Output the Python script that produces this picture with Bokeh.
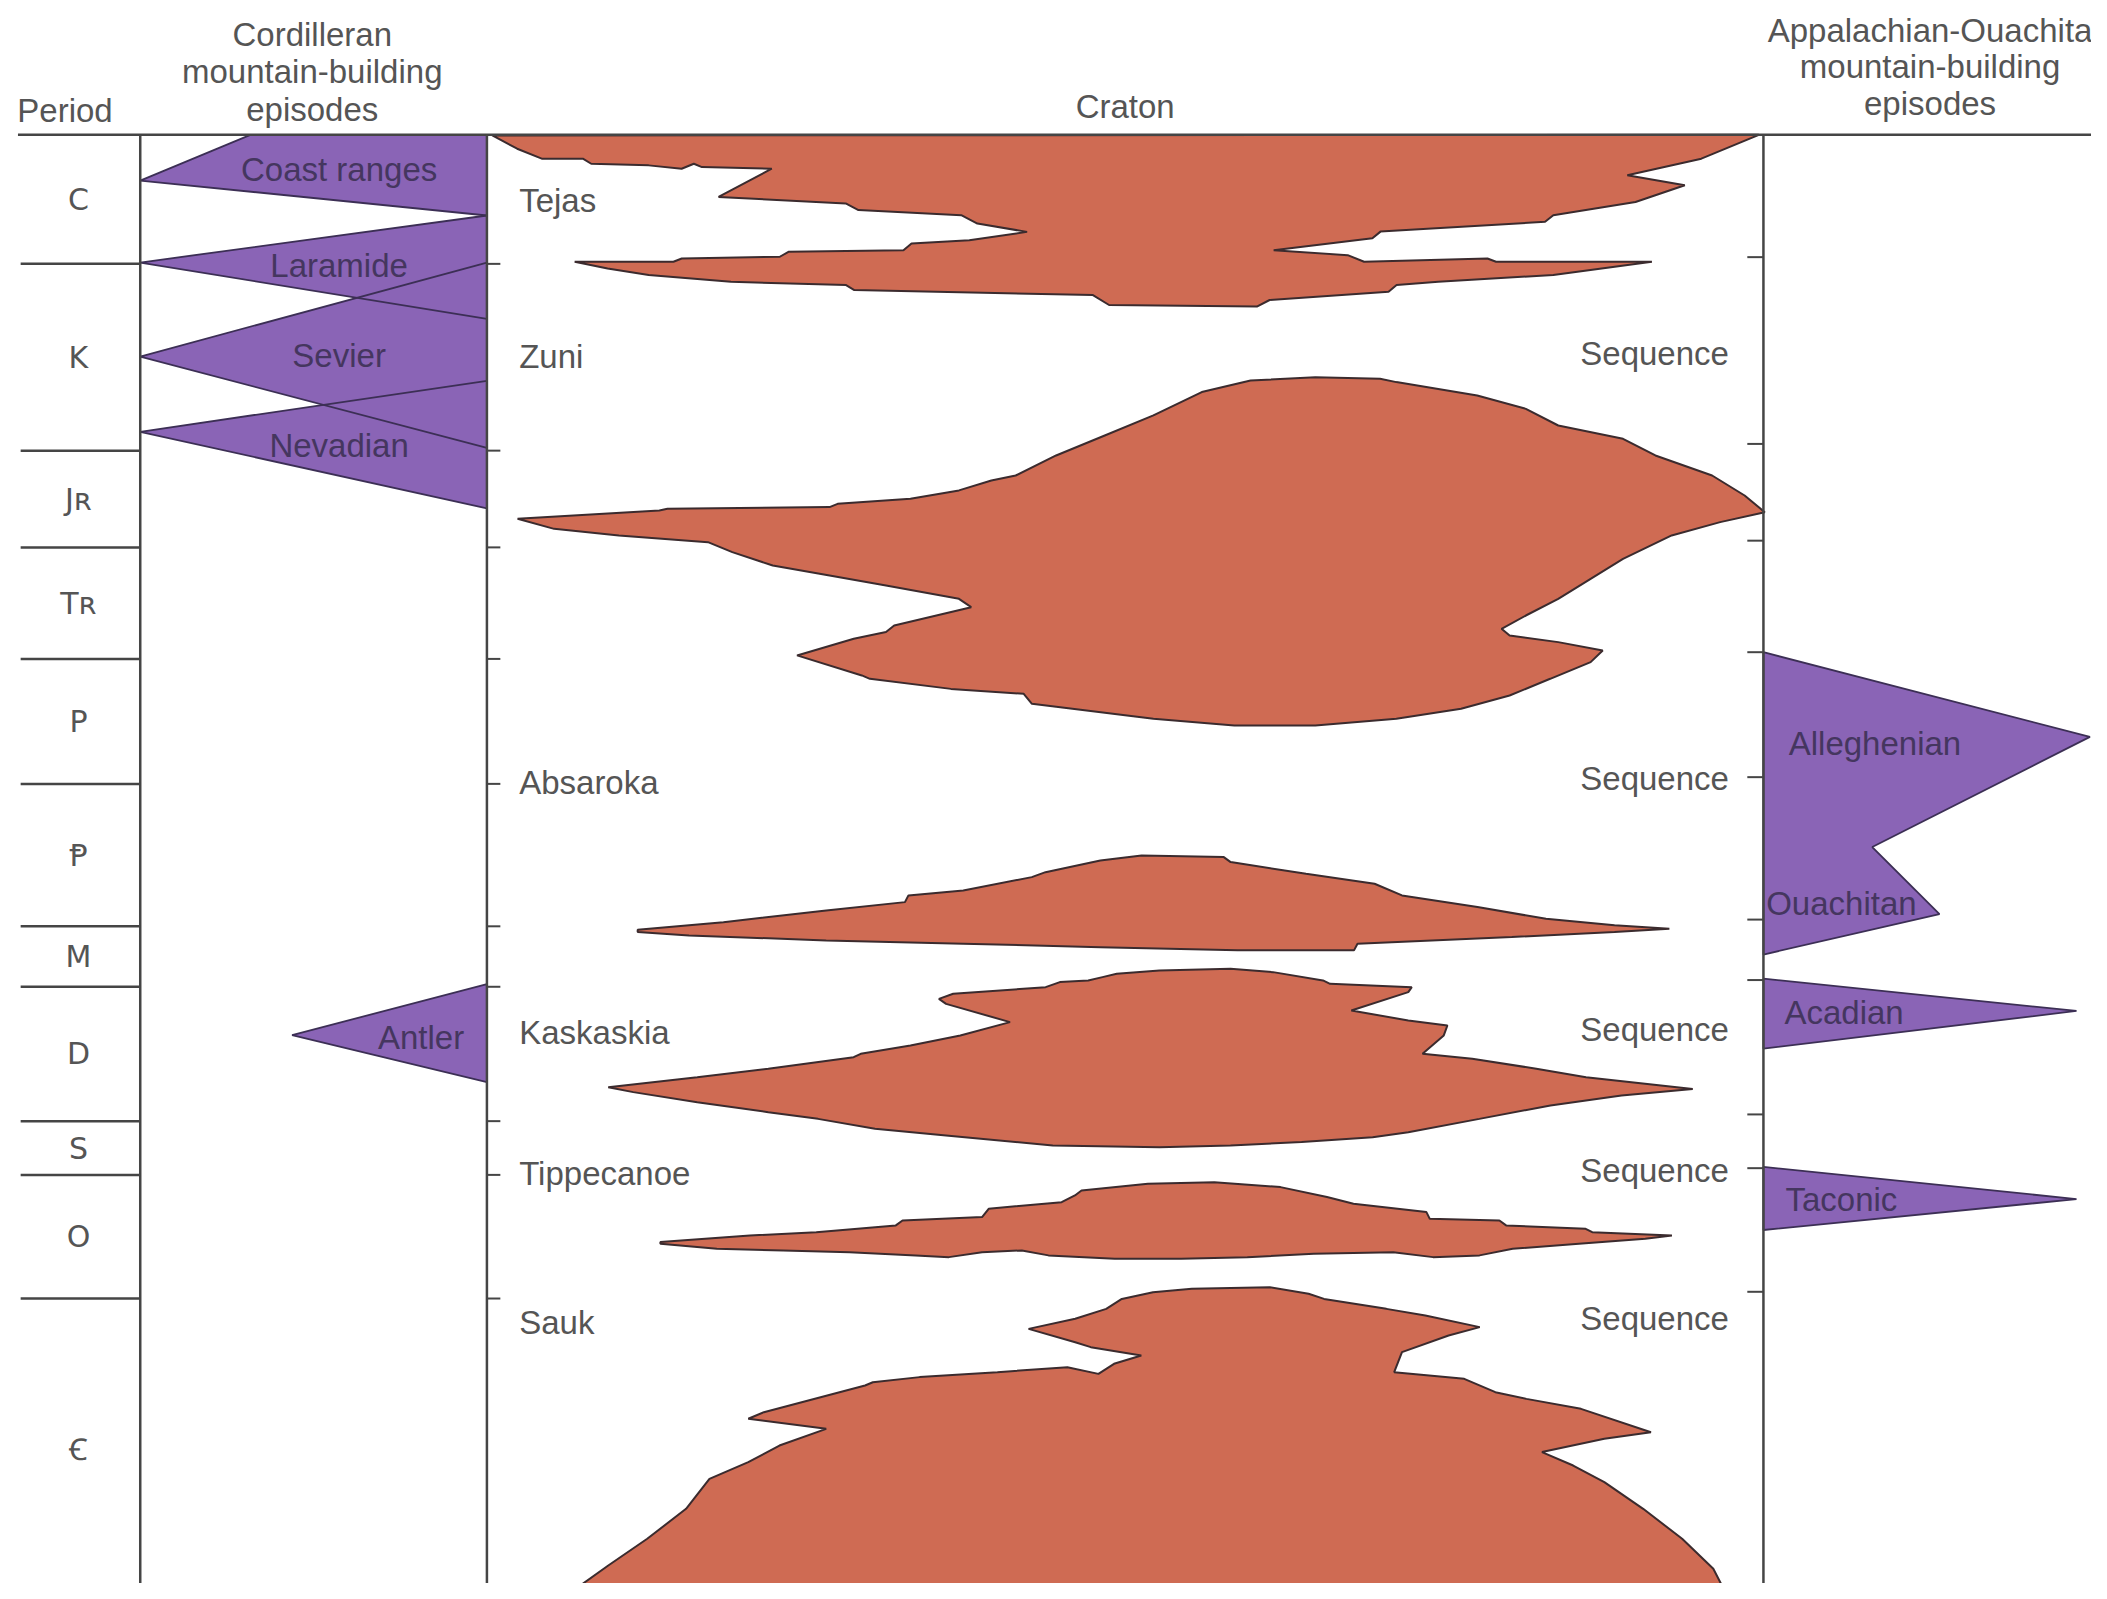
from bokeh.plotting import figure
from bokeh.models import Range1d
from bokeh.embed import file_html
from bokeh.resources import INLINE
from bokeh.core.properties import value

# ---------------- data ----------------
# geological periods (top to bottom) and the vertical position of each period's top edge
period_labels = ["C", "K", "J\u0280", "T\u0280", "P", "\u2C63", "M", "D", "S", "O", "\uA792"]
period_tops = [100, 196, 335, 407, 490, 583, 689, 734, 834, 874, 966]
chart_bottom = 1200

# Cordilleran mountain-building episodes (outline vertices)
cord_names = ["Coast ranges", "Laramide", "Sevier", "Nevadian", "Antler"]
cord_xs = [[104, 186, 362, 362], [104, 362, 362], [104, 362, 362], [104, 362, 362], [217, 362, 362]]
cord_ys = [[134, 100, 100, 160], [195, 160, 237], [265, 195, 333], [321, 283, 378], [770, 732, 805]]
cord_label_x = [252, 252, 252, 252, 313]
cord_label_y = [126, 197, 264, 331, 772]

# Appalachian-Ouachita mountain-building episodes
app_names = ["Alleghenian", "Ouachitan", "Acadian", "Taconic"]
app_xs = [[1312, 1555, 1393, 1443, 1312], [1312, 1545, 1312], [1312, 1545, 1312]]
app_ys = [[485, 548, 630, 680, 710], [728, 752, 780], [868, 892, 915]]
app_label_x = [1395, 1370, 1372, 1370]
app_label_y = [553, 672, 753, 892]

# Cratonic sequences
seq_names = ["Tejas", "Zuni", "Absaroka", "Kaskaskia", "Tippecanoe", "Sauk"]
seq_label_y = [149, 265, 582, 768, 873, 984]
seq_right_y = [None, 263, 579, 766, 871, 981]

tejas_zuni_x = [366, 384.5, 402.8, 433.4, 439.6, 482.4, 506.9, 516, 522, 574, 534.4, 629, 638.5, 715, 727, 764,
                721, 678, 672, 586.4, 580, 507, 500.8, 427.3, 451.8, 482.4, 543.6, 629.3, 635.4, 813, 825, 935,
                944.5, 1033, 1039, 1070, 1155.6, 1229, 1113, 1106.6, 1014.8, 1002.6, 947.5, 1021, 1027, 1149.5,
                1155.6, 1216.8, 1253.5, 1210.7, 1265.8, 1308.6]
tejas_zuni_y = [100.4, 110.3, 117.7, 117.7, 121.5, 122.7, 125.2, 121.5, 124, 125.2, 146.2, 151, 156, 159.8, 166,
                172.2, 178.4, 180.8, 185.8, 187, 190.7, 192, 194.4, 194.4, 199.4, 204.3, 209.3, 211.8, 215.5,
                219.2, 226.6, 227.8, 222.9, 216.7, 211.8, 209.3, 204.3, 194.4, 194.4, 192, 194.4, 189.5, 185.8,
                177, 172, 164.7, 159.8, 150, 137.5, 130, 117.7, 100]

zuni_absaroka_x = [384.8, 490.3, 496.3, 617, 623, 677.2, 713.3, 737.4, 755.5, 785.6, 821.8, 858, 894, 930.3,
                   978.5, 1026.7, 1038.8, 1099, 1135.2, 1159.3, 1207.5, 1231.6, 1273.8, 1298, 1313, 1279.8,
                   1243.7, 1207.5, 1183.4, 1159.3, 1135.2, 1117.1, 1123.1, 1159.3, 1192.4, 1183.4, 1153.3,
                   1123.1, 1087, 1038.8, 978.5, 918.2, 858, 797.7, 767.6, 761.5, 707.3, 647, 641, 592.8, 635,
                   659, 665.1, 722.4, 713.3, 659, 617, 574.7, 544.6, 526.5, 460.2, 412]
zuni_absaroka_y = [385.7, 379.5, 378.3, 377, 374.6, 370.8, 364.6, 357.2, 353.5, 338.6, 323.7, 308.8, 291.4, 282.8,
                   280.3, 281.5, 284, 293.9, 303.9, 316.3, 326.2, 338.6, 353.5, 368.4, 380.8, 388.2, 398.1,
                   415.5, 430.4, 445.3, 457.7, 467.6, 472.6, 477.5, 483.7, 492.4, 504.8, 517.2, 527.1, 534.6,
                   539.5, 539.5, 534.6, 527.1, 523.4, 516, 512.3, 504.8, 502.3, 487.4, 475, 470, 465.1, 451.5,
                   445.3, 435.3, 427.9, 420.5, 410.5, 403.1, 398.1, 393.2]

absaroka_lower_x = [474.2, 538, 614.5, 673.1, 675.7, 716.5, 767.5, 777.7, 818.5, 849.2, 910.4, 915.5, 971.6,
                    1022.6, 1043, 1099.2, 1150.2, 1201.2, 1242, 1201.2, 1124.7, 1009.9, 1007.3, 920.6, 818.5,
                    716.5, 614.5, 512.4, 474.2]
absaroka_lower_y = [691.6, 685.9, 677.2, 671, 666, 662.3, 652.4, 648.7, 640, 636.3, 637.5, 641.2, 649.9, 657.3,
                    666, 674.7, 683.4, 688.3, 690.8, 693.3, 697, 702, 706.9, 706.9, 704.5, 702, 699.5, 695.8,
                    693.3]

kaskaskia_x = [452.3, 518.5, 571.4, 634.9, 640.2, 677.2, 714.3, 751.3, 703.7, 698.4, 709, 777.8, 788.4, 809.5,
               820.1, 830.7, 862.5, 915.4, 947.1, 984.2, 989.5, 1050.3, 1047.7, 1005.3, 1047.7, 1076.8, 1074.1,
               1058.3, 1095.3, 1143, 1180, 1259.4, 1206.4, 1153.5, 1100.6, 1047.7, 1021.2, 968.3, 915.4, 862.5,
               783.1, 703.7, 650.8, 608.4, 571.4, 518.5, 470.9]
kaskaskia_y = [808.7, 801.3, 795, 786.4, 783.9, 777.7, 770.2, 760.3, 746.7, 743, 739.2, 734.3, 730.5, 729.3,
               726.8, 724.3, 721.9, 720.6, 723.1, 729.3, 731.8, 734.3, 738, 751.6, 759.1, 762.8, 770.2, 783.9,
               787.6, 795, 801.3, 810, 814.9, 822.3, 832.3, 842.2, 845.9, 849.6, 852.1, 853.4, 852.1, 844.7,
               839.7, 832.3, 827.3, 819.9, 812.4]

tippecanoe_x = [491.1, 557.7, 607.1, 666.3, 671.3, 730.5, 735.4, 789.7, 799.6, 804.5, 853.9, 903.3, 952.6,
                987.2, 1006.9, 1061.2, 1063.7, 1115.5, 1120.5, 1179.7, 1184.6, 1243.9, 1224.1, 1174.7, 1125.4,
                1100.7, 1066.1, 1036.5, 977.3, 927.9, 878.6, 829.2, 779.9, 760.1, 730.5, 705.8, 681.1, 631.8,
                582.4, 533.1, 491.1]
tippecanoe_y = [924, 919.1, 916.6, 911.6, 907.9, 905.4, 899.2, 894.3, 889.3, 885.6, 880.6, 879.4, 883.1, 890.5,
                895.5, 901.7, 906.7, 907.9, 911.6, 914.1, 916.6, 919.1, 921.5, 925.3, 929, 933.9, 935.2, 931.5,
                932.7, 935.2, 936.4, 936.4, 933.9, 930.2, 931.5, 935.2, 933.9, 931.5, 930.2, 929, 925.3]

sauk_x = [417.6, 452.3, 481.3, 510.2, 521.8, 527.6, 556.5, 579.7, 614.5, 556.5, 568.1, 643.4, 649.2, 684, 741.9,
          794, 817.1, 828.7, 849, 811.4, 799.8, 765.1, 799.8, 822.9, 834.5, 857.7, 886.6, 944.5, 973.5, 985,
          1031.4, 1060.4, 1100.9, 1077.7, 1043, 1037.2, 1089.3, 1112.5, 1135.6, 1176.2, 1228.3, 1193.6, 1147.2,
          1170.4, 1193.6, 1222.5, 1251.5, 1274.7, 1286.2, 1292]
sauk_y = [1189.5, 1164.7, 1144.8, 1122.5, 1107.6, 1100.2, 1087.8, 1075.4, 1063, 1055.5, 1050.6, 1030.7, 1028.3,
          1024.5, 1020.8, 1017.1, 1022.1, 1014.6, 1008.4, 1002.2, 998.5, 988.6, 981.1, 973.7, 966.3, 961.3, 958.8,
          957.6, 962.5, 966.3, 973.7, 978.7, 987.3, 993.5, 1005.9, 1020.8, 1025.8, 1035.7, 1040.7, 1048.1, 1065.5,
          1070.4, 1080.3, 1090.3, 1102.7, 1122.5, 1144.8, 1167.1, 1189.5, 1205]

craton_xs = [tejas_zuni_x, zuni_absaroka_x, absaroka_lower_x, kaskaskia_x, tippecanoe_x, sauk_x]
craton_ys = [tejas_zuni_y, zuni_absaroka_y, absaroka_lower_y, kaskaskia_y, tippecanoe_y, sauk_y]

# ---------------- styling ----------------
FONT = value("Liberation Sans")
TXT = "#555555"
LINE = "#454545"
CRATON_FILL = "#cf6b53"
PURPLE = "#8a64b6"
PURPLE_TXT = "#45365f"
OUTLINE = "#3b2b2e"
FS = "33px"

col_period_right = 104
col_cord_right = 362
col_craton_right = 1312
left_edge = 13
right_edge = 1562

SCALE = 1.3437
W, H = 2091, 1583
p = figure(width=W, height=H, x_range=Range1d(0, W / SCALE), y_range=Range1d(H / SCALE, 0),
           output_backend="svg", toolbar_location=None, min_border=0)
p.axis.visible = False
p.grid.visible = False
p.outline_line_color = None
p.background_fill_color = "white"
p.border_fill_color = "white"

# craton sequences
p.patches(xs=craton_xs, ys=craton_ys, fill_color=CRATON_FILL, line_color=OUTLINE, line_width=2)

# mountain-building episodes: fill first, then outlines (so crossing edges stay visible)
p.patches(xs=cord_xs + app_xs, ys=cord_ys + app_ys, fill_color=PURPLE, line_color=None)
p.patches(xs=cord_xs + app_xs, ys=cord_ys + app_ys, fill_color=None, line_color="#3c2f55", line_width=1.8)

# frame lines
top = period_tops[0]
p.segment(x0=[left_edge], y0=[top], x1=[right_edge], y1=[top], line_color=LINE, line_width=2.5)
for xv in [col_period_right, col_cord_right, col_craton_right]:
    p.segment(x0=[xv], y0=[top], x1=[xv], y1=[chart_bottom], line_color=LINE, line_width=2.5)

bounds = period_tops[1:]
p.segment(x0=[15] * len(bounds), y0=bounds, x1=[col_period_right] * len(bounds), y1=bounds,
          line_color=LINE, line_width=2.5)
# ticks on the craton column edges
p.segment(x0=[col_cord_right] * len(bounds), y0=bounds, x1=[col_cord_right + 10] * len(bounds), y1=bounds,
          line_color=LINE, line_width=2)
rb = [b - 5 for b in bounds]
p.segment(x0=[col_craton_right - 12] * len(rb), y0=rb, x1=[col_craton_right] * len(rb), y1=rb,
          line_color=LINE, line_width=2)

# period labels
mids = [(period_tops[i] + (period_tops[i + 1] if i + 1 < len(period_tops) else 1190)) / 2
        for i in range(len(period_tops))]
p.text(x=[58] * len(period_labels), y=mids, text=period_labels, text_font=value("DejaVu Sans"),
       text_font_size="30px", text_color=TXT, text_align="center", text_baseline="middle")

# headers
def label(x, y, t, align="center", color=TXT, size=FS):
    p.text(x=[x], y=[y], text=[t], text_font=FONT, text_font_size=size, text_color=color,
           text_align=align, text_baseline="middle")

label(48, 82, "Period")
for yy, t in zip([25, 53, 81], ["Cordilleran", "mountain-building", "episodes"]):
    label(232, yy, t)
label(837, 79, "Craton")
for yy, t in zip([22, 49, 77], ["Appalachian-Ouachita", "mountain-building", "episodes"]):
    label(1436, yy, t)

# episode labels
for x, y, t in zip(cord_label_x + app_label_x, cord_label_y + app_label_y, cord_names + app_names):
    label(x, y, t, color=PURPLE_TXT)

# sequence labels
for y, t in zip(seq_label_y, seq_names):
    label(386, y, t, align="left")
for y in seq_right_y:
    if y is not None:
        label(1231, y, "Sequence")

open("out.html", "w").write(file_html(p, INLINE))
